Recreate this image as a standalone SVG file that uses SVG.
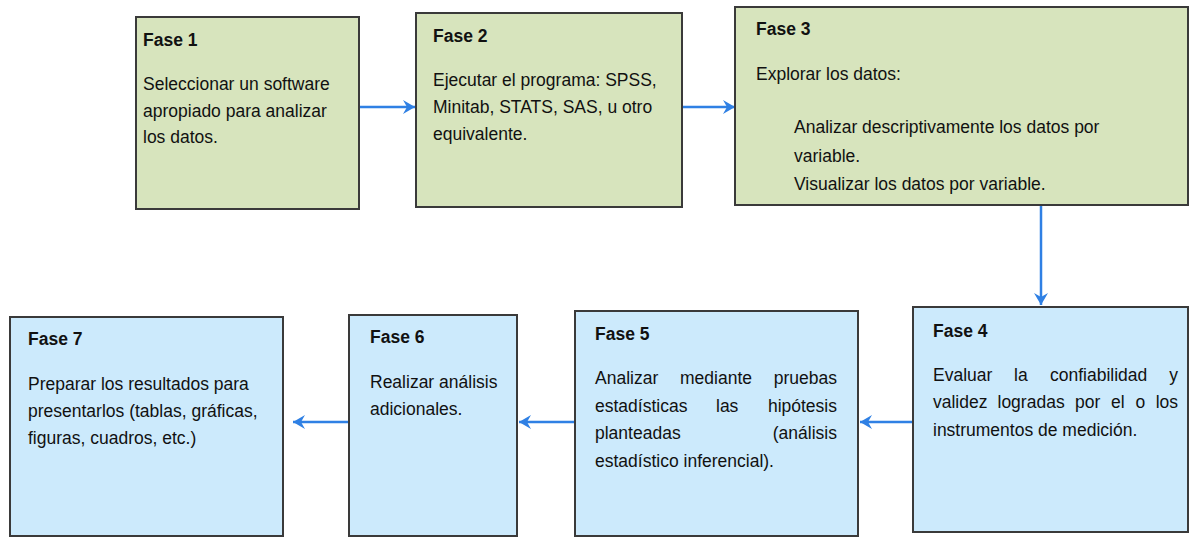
<svg xmlns="http://www.w3.org/2000/svg" width="1190" height="539" viewBox="0 0 1190 539">
  <style>
    .box { stroke: #3a3a3a; stroke-width: 2; }
    .green { fill: #d7e4bd; }
    .blue { fill: #cceafc; }
    text { font-family: "Liberation Sans", Arial, sans-serif; font-size: 17.5px; fill: #111111; }
    .title { font-weight: bold; }
    .end { text-anchor: end; }
    .conn { stroke: #2f80e4; stroke-width: 2.5; fill: none; marker-end: url(#arrow); }
  </style>
  <defs>
    <marker id="arrow" markerUnits="userSpaceOnUse" markerWidth="14" markerHeight="14" refX="12" refY="7" orient="auto">
      <path d="M0,0 L12,7 L0,14 L4,7 Z" fill="#2f80e4"/>
    </marker>
  </defs>
  <rect width="1190" height="539" fill="#ffffff"/>

  <g id="connectors">
    <line class="conn" x1="360" y1="107" x2="415" y2="107"/>
    <line class="conn" x1="683" y1="107" x2="735" y2="107"/>
    <line class="conn" x1="1041" y1="206" x2="1041" y2="305"/>
    <line class="conn" x1="912" y1="422" x2="860" y2="422"/>
    <line class="conn" x1="574" y1="422" x2="519" y2="422"/>
    <line class="conn" x1="348" y1="422" x2="293" y2="422"/>
  </g>

  <g id="fase1">
    <rect class="box green" x="136" y="17" width="223" height="192"/>
    <text class="title" x="143" y="46">Fase 1</text>
    <text x="143" y="90">Seleccionar un software</text>
    <text x="143" y="117">apropiado para analizar</text>
    <text x="143" y="143">los datos.</text>
  </g>

  <g id="fase2">
    <rect class="box green" x="416" y="13" width="266" height="194"/>
    <text class="title" x="433" y="42">Fase 2</text>
    <text x="433" y="86">Ejecutar el programa: SPSS,</text>
    <text x="433" y="113">Minitab, STATS, SAS, u otro</text>
    <text x="433" y="140">equivalente.</text>
  </g>

  <g id="fase3">
    <rect class="box green" x="735" y="7" width="453" height="198"/>
    <text class="title" x="756" y="35">Fase 3</text>
    <text x="756" y="80">Explorar los datos:</text>
    <text x="794" y="133">Analizar descriptivamente los datos por</text>
    <text x="794" y="162">variable.</text>
    <text x="794" y="190">Visualizar los datos por variable.</text>
  </g>

  <g id="fase4">
    <rect class="box blue" x="913" y="307" width="275" height="225"/>
    <text class="title" x="933" y="337">Fase 4</text>
    <text x="933" y="381">Evaluar</text>
    <text x="1014" y="381">la</text>
    <text x="1050" y="381">confiabilidad</text>
    <text class="end" x="1178" y="381">y</text>
    <text x="933" y="408">validez</text>
    <text x="997.5" y="408">logradas</text>
    <text x="1075" y="408">por</text>
    <text x="1111" y="408">el</text>
    <text x="1135.5" y="408">o</text>
    <text class="end" x="1178" y="408">los</text>
    <text x="933" y="436">instrumentos de medición.</text>
  </g>

  <g id="fase5">
    <rect class="box blue" x="575" y="311" width="283" height="225"/>
    <text class="title" x="595" y="340">Fase 5</text>
    <text x="595" y="384">Analizar</text>
    <text x="680" y="384">mediante</text>
    <text class="end" x="837" y="384">pruebas</text>
    <text x="595" y="412">estadísticas</text>
    <text x="716" y="412">las</text>
    <text class="end" x="837" y="412">hipótesis</text>
    <text x="595" y="439">planteadas</text>
    <text class="end" x="837" y="439">(análisis</text>
    <text x="595" y="467">estadístico inferencial).</text>
  </g>

  <g id="fase6">
    <rect class="box blue" x="349" y="315" width="168" height="221"/>
    <text class="title" x="370" y="343">Fase 6</text>
    <text x="370" y="388">Realizar análisis</text>
    <text x="370" y="415">adicionales.</text>
  </g>

  <g id="fase7">
    <rect class="box blue" x="10" y="317" width="273" height="219"/>
    <text class="title" x="28" y="345">Fase 7</text>
    <text x="28" y="390">Preparar los resultados para</text>
    <text x="28" y="417">presentarlos (tablas, gráficas,</text>
    <text x="28" y="444">figuras, cuadros, etc.)</text>
  </g>
</svg>
